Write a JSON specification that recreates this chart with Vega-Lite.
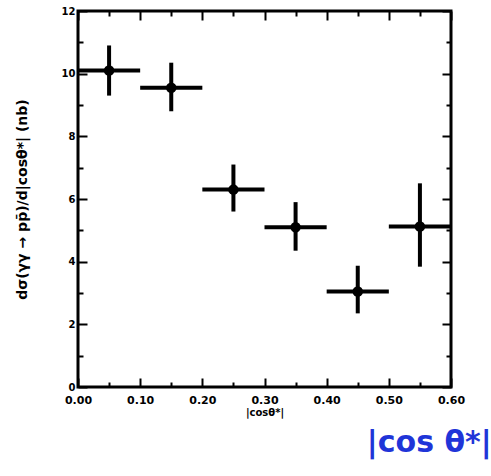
{
  "$schema": "https://vega.github.io/schema/vega-lite/v6.json",
  "autosize": "none",
  "width": 373,
  "height": 376,
  "padding": {"left": 78, "top": 11, "right": 40, "bottom": 89},
  "background": "white",
  "config": {
    "view": {"stroke": "black", "strokeWidth": 3},
    "axis": {"domain": false, "grid": false, "tickColor": "black", "tickWidth": 2, "labelColor": "black", "labelFont": "DejaVu Sans", "labelFontWeight": "bold", "labelFontSize": 10, "titleFont": "DejaVu Sans", "titleFontWeight": "bold", "titleColor": "black"}
  },
  "data": {"values": [
    {"xc": 0.05, "xlo": 0.0, "xhi": 0.1, "y": 10.1, "ylo": 9.3, "yhi": 10.9},
    {"xc": 0.15, "xlo": 0.1, "xhi": 0.2, "y": 9.55, "ylo": 8.8, "yhi": 10.35},
    {"xc": 0.25, "xlo": 0.2, "xhi": 0.3, "y": 6.3, "ylo": 5.6, "yhi": 7.1},
    {"xc": 0.35, "xlo": 0.3, "xhi": 0.4, "y": 5.1, "ylo": 4.35, "yhi": 5.9},
    {"xc": 0.45, "xlo": 0.4, "xhi": 0.5, "y": 3.05, "ylo": 2.35, "yhi": 3.87},
    {"xc": 0.55, "xlo": 0.5, "xhi": 0.6, "y": 5.12, "ylo": 3.84, "yhi": 6.5}
  ]},
  "resolve": {"axis": {"x": "independent", "y": "independent"}},
  "layer": [
    {
      "mark": {"type": "rule", "color": "black", "strokeWidth": 4},
      "encoding": {
        "x": {"field": "xlo", "type": "quantitative",
          "scale": {"domain": [0, 0.6], "nice": false, "zero": false},
          "axis": {"orient": "bottom", "title": "|cosθ*|", "titleFontSize": 10, "titlePadding": 2,
            "values": [0, 0.05, 0.1, 0.15, 0.2, 0.25, 0.3, 0.35, 0.4, 0.45, 0.5, 0.55, 0.6],
            "labelExpr": "(round(datum.value*100) % 10 == 0) ? format(datum.value, '.2f') : ''",
            "labelFontSize": 11,
            "tickSize": {"condition": {"test": "round(datum.value*100) % 10 == 0", "value": -9}, "value": -5},
            "labelPadding": 16, "labelFlush": false}},
        "x2": {"field": "xhi"},
        "y": {"field": "y", "type": "quantitative",
          "scale": {"domain": [0, 12], "nice": false, "zero": false},
          "axis": {"orient": "left", "title": "dσ(γγ → pp̄)/d|cosθ*| (nb)", "titleFontSize": 14, "titlePadding": 32,
            "values": [0, 1, 2, 3, 4, 5, 6, 7, 8, 9, 10, 11, 12],
            "labelExpr": "(datum.value % 2 == 0) ? datum.label : ''",
            "tickSize": {"condition": {"test": "datum.value % 2 == 0", "value": -9}, "value": -5},
            "labelPadding": 12, "labelFlush": false}}
      }
    },
    {
      "mark": {"type": "rule", "color": "black", "strokeWidth": 4},
      "encoding": {
        "x": {"field": "xc", "type": "quantitative",
          "axis": {"orient": "top", "title": null, "labels": false,
            "values": [0, 0.05, 0.1, 0.15, 0.2, 0.25, 0.3, 0.35, 0.4, 0.45, 0.5, 0.55, 0.6],
            "tickSize": {"condition": {"test": "round(datum.value*100) % 10 == 0", "value": -9}, "value": -5}}},
        "y": {"field": "ylo", "type": "quantitative",
          "axis": {"orient": "right", "title": null, "labels": false,
            "values": [0, 1, 2, 3, 4, 5, 6, 7, 8, 9, 10, 11, 12],
            "tickSize": {"condition": {"test": "datum.value % 2 == 0", "value": -9}, "value": -5}}},
        "y2": {"field": "yhi"}
      }
    },
    {
      "mark": {"type": "point", "filled": true, "color": "black", "size": 110, "opacity": 1},
      "encoding": {
        "x": {"field": "xc", "type": "quantitative", "axis": null},
        "y": {"field": "y", "type": "quantitative", "axis": null}
      }
    },
    {
      "data": {"values": [{"lx": 0.565, "ly": -1.8, "t": "|cos θ*|"}]},
      "mark": {"type": "text", "color": "#1f35d8", "font": "DejaVu Sans", "fontWeight": "bold", "fontSize": 30, "align": "center", "baseline": "middle"},
      "encoding": {
        "x": {"field": "lx", "type": "quantitative", "axis": null},
        "y": {"field": "ly", "type": "quantitative", "axis": null},
        "text": {"field": "t"}
      }
    }
  ]
}
